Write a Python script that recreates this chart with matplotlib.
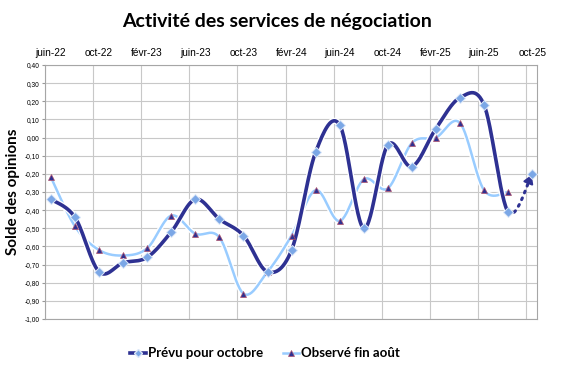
import numpy as np
import matplotlib
matplotlib.use("Agg")
import matplotlib.pyplot as plt
import matplotlib.patheffects as pe
from matplotlib.lines import Line2D

months = ["juin-22", "août-22", "oct-22", "déc-22", "févr-23", "avr-23", "juin-23",
          "août-23", "oct-23", "déc-23", "févr-24", "avr-24", "juin-24", "août-24",
          "oct-24", "déc-24", "févr-25", "avr-25", "juin-25", "août-25", "oct-25"]
prevu = [-0.34, -0.44, -0.74, -0.69, -0.66, -0.52, -0.34, -0.45, -0.54, -0.74,
         -0.62, -0.08, 0.07, -0.50, -0.04, -0.16, 0.05, 0.22, 0.18, -0.41, -0.20]
observe = [-0.22, -0.49, -0.62, -0.65, -0.61, -0.43, -0.53, -0.55, -0.86, -0.74,
           -0.54, -0.29, -0.46, -0.23, -0.28, -0.03, 0.00, 0.08, -0.29, -0.30]
top_labels = months[::2]
yticks = [round(-1.0 + 0.1 * k, 2) for k in range(15)]

DARK = "#2E3192"
LIGHT = "#99CCFF"
DIAM = "#7BA7E6"


def xpos(n):
    return np.arange(n) * 2 + 0.5


def smooth(x, y, n=30):
    x = np.asarray(x, float); y = np.asarray(y, float)
    P = np.column_stack([x, y])
    P = np.vstack([P[0], P, P[-1]])
    out = []
    for i in range(1, len(P) - 2):
        p0, p1, p2, p3 = P[i - 1], P[i], P[i + 1], P[i + 2]
        c1 = p1 + (p2 - p0) / 6
        c2 = p2 - (p3 - p1) / 6
        t = np.linspace(0, 1, n)[:, None]
        seg = (1 - t) ** 3 * p1 + 3 * (1 - t) ** 2 * t * c1 + 3 * (1 - t) * t ** 2 * c2 + t ** 3 * p2
        out.append(seg if i == 1 else seg[1:])
    s = np.vstack(out)
    return s[:, 0], s[:, 1]


fig = plt.figure(figsize=(5.65, 3.73), dpi=100)
ax = fig.add_axes([0.0796, 0.1448, 0.8708, 0.6809])

ax.set_xlim(0, 40.9)
ax.set_ylim(-1.0, 0.40)
ax.set_yticks(yticks)
ax.set_yticklabels([f"{v:.2f}".replace(".", ",") for v in yticks],
                   fontsize=4.8, family="Liberation Sans")
ax.set_xticks(np.arange(0, 41, 4), minor=False)
ax.set_xticklabels([])
ax.tick_params(axis="x", length=0)
ax.tick_params(axis="y", length=2, color="#999999", pad=2)
ax.grid(True, color="#C8C8C8", lw=0.8)
ax.set_axisbelow(True)
for s in ax.spines.values():
    s.set_color("#A6A6A6")
    s.set_linewidth(0.8)

# top labels
ax2 = ax.secondary_xaxis("top")
ax2.set_xticks(xpos(len(months))[::2])
ax2.set_xticklabels(top_labels, fontsize=7.3, family="Liberation Sans")
ax2.tick_params(length=0, pad=5)
ax2.spines["top"].set_visible(False)

glow = [pe.Stroke(linewidth=4.5, foreground="white"), pe.Normal()]
glow2 = [pe.Stroke(linewidth=3.8, foreground="white"), pe.Normal()]

xo = xpos(len(observe))
sx, sy = smooth(xo, observe)
ax.plot(sx, sy, color=LIGHT, lw=1.8, path_effects=glow2, zorder=3, solid_capstyle="round")

xp = xpos(len(prevu))
sx, sy = smooth(xp, prevu)
n = 30
cut = (len(prevu) - 2) * (n - 1) + 1
ax.plot(sx[:cut], sy[:cut], color=DARK, lw=2.6, path_effects=glow, zorder=4, solid_capstyle="round")
ax.plot(sx[cut - 1:-6], sy[cut - 1:-6], color=DARK, lw=2.2, ls=(0, (0.6, 1.8)),
        dash_capstyle="round", zorder=4)
ax.annotate("", xy=(sx[-2], sy[-2]), xytext=(sx[-8], sy[-8]),
            arrowprops=dict(arrowstyle="-|>,head_length=0.5,head_width=0.3", color=DARK, lw=1.5,
                            shrinkA=0, shrinkB=0), zorder=4)

ax.plot(xo, observe, ls="none", marker="^", ms=4.8, mfc=DARK, mec="#B0506A", mew=0.5, zorder=5)
ax.plot(xp, prevu, ls="none", marker="D", ms=5, mfc=DIAM, mec="#DDE8F8", mew=0.7, zorder=6)

ax.set_ylabel("Solde des opinions", fontsize=11, fontweight="bold", family="Lato", labelpad=3)

fig.text(0.49, 0.943, "Activité des services de négociation", ha="center", va="center",
         fontsize=14, fontweight="bold", family="Lato")

h1 = Line2D([], [], color=DARK, lw=2.6, marker="D", ms=4.5, mfc=DIAM, mec="#DDE8F8")
h2 = Line2D([], [], color=LIGHT, lw=1.8, marker="^", ms=4.8, mfc=DARK, mec="#B0506A", mew=0.5)
leg = fig.legend([h1, h2], ["Prévu pour octobre", "Observé fin août"], loc="center",
                 bbox_to_anchor=(0.469, 0.053), ncol=2, frameon=False, handlelength=1.2,
                 handletextpad=0.15, columnspacing=1.5,
                 prop=dict(family="Lato", weight="bold", size=9.5))

fig.savefig("out.png", dpi=100)
